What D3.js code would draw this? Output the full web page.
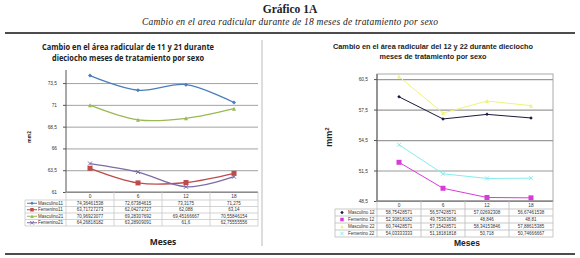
<!DOCTYPE html>
<html><head><meta charset="utf-8">
<script src="https://cdn.jsdelivr.net/npm/d3@7"></script>
<style>body{margin:0;background:#fff}svg{display:block}</style>
</head><body>
<script>
// ---------- DATA ----------
const months = ["0", "6", "12", "18"];

const leftNames = ["Masculino11", "Femenino11", "Masculino21", "Femenino21"];
const masculino11 = [74.36461538, 72.67384615, 73.3175, 71.275];
const femenino11  = [63.71727273, 62.04272727, 62.088, 63.14];
const masculino21 = [70.96923077, 69.28307692, 69.45166667, 70.55846154];
const femenino21  = [64.26818182, 63.28909091, 61.6, 62.75555556];
const leftTicks = [61, 63.5, 66, 68.5, 71, 73.5];

const rightNames = ["Masculino 12", "Femenino 12", "Masculino 22", "Femenino 22"];
const masculino12 = [58.75428571, 56.57428571, 57.02692308, 56.67461538];
const femenino12  = [52.30818182, 49.75363636, 48.846, 48.81];
const masculino22 = [60.74428571, 57.15428571, 58.34153846, 57.88615385];
const femenino22  = [54.03333333, 51.18181818, 50.718, 50.74666667];
const rightTicks = [48.5, 51.5, 54.5, 57.5, 60.5];

const mainTitle = "Gráfico 1A";
const subTitle = "Cambio en el area radicular durante de 18 meses de tratamiento por sexo";
const leftTitle = ["Cambio en el área radicular de 11 y 21 durante", "dieciocho meses de tratamiento por sexo"];
const rightTitle = ["Cambio en el área radicular del 12 y 22 durante dieciocho", "meses de tratamiento por sexo"];

// ---------- DRAW ----------
const fmt = v => String(v).replace(".", ",");
const svg = d3.select("body").append("svg").attr("width", 580).attr("height", 258);

svg.append("text").attr("x", 290).attr("y", 13).attr("text-anchor", "middle")
  .attr("font-family", "Liberation Serif").attr("font-weight", "bold").attr("font-size", 11.5)
  .attr("fill", "#222").text(mainTitle);
svg.append("text").attr("x", 290).attr("y", 25).attr("text-anchor", "middle")
  .attr("font-family", "Liberation Serif").attr("font-style", "italic").attr("font-size", 9.5)
  .attr("fill", "#222").attr("textLength", 296).text(subTitle);
svg.append("line").attr("x1", 5).attr("x2", 575).attr("y1", 33).attr("y2", 33)
  .attr("stroke", "#111").attr("stroke-width", 1.5);
svg.append("line").attr("x1", 5).attr("x2", 575).attr("y1", 254).attr("y2", 254)
  .attr("stroke", "#111").attr("stroke-width", 1.5);
svg.append("line").attr("x1", 262).attr("x2", 262).attr("y1", 40).attr("y2", 246)
  .attr("stroke", "#bbb").attr("stroke-width", 1);

function marker(g, type, cx, cy, color, s) {
  if (type === "square") {
    g.append("rect").attr("x", cx - s / 2).attr("y", cy - s / 2).attr("width", s).attr("height", s).attr("fill", color);
  } else if (type === "diamond") {
    g.append("path").attr("d", `M${cx},${cy - s / 2}L${cx + s / 2},${cy}L${cx},${cy + s / 2}L${cx - s / 2},${cy}Z`).attr("fill", color);
  } else if (type === "triangle") {
    g.append("path").attr("d", `M${cx},${cy - s / 2}L${cx + s / 2},${cy + s / 2}L${cx - s / 2},${cy + s / 2}Z`).attr("fill", color);
  } else if (type === "x") {
    g.append("path").attr("d", `M${cx - s / 2},${cy - s / 2}L${cx + s / 2},${cy + s / 2}M${cx - s / 2},${cy + s / 2}L${cx + s / 2},${cy - s / 2}`)
      .attr("stroke", color).attr("stroke-width", 1);
  }
}

function chart(opt) {
  const g = svg.append("g");
  const x = d3.scaleBand().domain(months).range([opt.x0, opt.x1]);
  const cx = m => x(m) + x.bandwidth() / 2;
  const y = d3.scaleLinear().domain(opt.domain).range([opt.y0, opt.top]);

  opt.title.forEach((t, i) => {
    g.append("text").attr("x", opt.titleX).attr("y", opt.titleY + i * opt.titleGap)
      .attr("text-anchor", "middle").attr("font-family", opt.titleFont).attr("font-weight", "bold")
      .attr("font-size", opt.titleSize).attr("fill", "#222")
      .attr("textLength", opt.titleLen[i]).attr("lengthAdjust", "spacingAndGlyphs").text(t);
  });

  if (opt.frame) {
    g.append("rect").attr("x", opt.x0).attr("y", opt.top).attr("width", opt.x1 - opt.x0)
      .attr("height", opt.y0 - opt.top).attr("fill", "none").attr("stroke", "#aaa").attr("stroke-width", 1);
  }
  const grid = g.append("g").attr("transform", `translate(${opt.x0},0)`)
    .call(d3.axisLeft(y).tickValues(opt.ticks).tickSize(-(opt.x1 - opt.x0)).tickFormat(""));
  grid.select(".domain").remove();
  grid.selectAll("line").attr("stroke", opt.gridColor).attr("stroke-width", opt.gridWidth);

  const ax = g.append("g").attr("transform", `translate(${opt.x0},0)`)
    .call(d3.axisLeft(y).tickValues(opt.ticks).tickSize(3).tickFormat(fmt));
  ax.select(".domain").attr("d", `M0,${opt.top}V${opt.y0}`).attr("stroke", "#555");
  ax.selectAll("line").attr("stroke", "#555");
  ax.selectAll("text").attr("font-family", opt.tickFont).attr("font-size", 4.8).attr("fill", "#333").attr("dx", -3);

  g.append("text").attr("transform", `translate(${opt.yTitleX},${opt.yTitleY}) rotate(-90)`)
    .attr("text-anchor", "middle").attr("font-family", opt.titleFont).attr("font-weight", "bold")
    .attr("font-size", opt.yTitleSize).attr("fill", "#222").html(opt.yTitle);

  const line = d3.line().x((d, i) => cx(months[i])).y(d => y(d)).curve(opt.curve);
  opt.series.forEach(s => {
    g.append("path").attr("d", line(s.values)).attr("fill", "none").attr("stroke", s.color).attr("stroke-width", opt.lineWidth);
    s.values.forEach((v, i) => marker(g, s.marker, cx(months[i]), y(v), s.markerColor || s.color, s.size));
  });

  const tb = g.append("g");
  const rowTop = opt.y0 + opt.headH;
  const rows = opt.series.length;
  const tBottom = rowTop + rows * opt.rowH;
  const tc = opt.tableColor;
  tb.append("line").attr("x1", opt.x0).attr("x2", opt.x1).attr("y1", opt.y0).attr("y2", opt.y0).attr("stroke", "#777");
  for (let r = 0; r <= rows; r++) {
    tb.append("line").attr("x1", opt.tx).attr("x2", opt.x1).attr("y1", rowTop + r * opt.rowH).attr("y2", rowTop + r * opt.rowH)
      .attr("stroke", tc).attr("stroke-width", 0.8);
  }
  months.forEach(m => {
    tb.append("line").attr("x1", x(m)).attr("x2", x(m)).attr("y1", opt.y0).attr("y2", tBottom).attr("stroke", tc).attr("stroke-width", 0.8);
  });
  tb.append("line").attr("x1", opt.x1).attr("x2", opt.x1).attr("y1", opt.y0).attr("y2", tBottom).attr("stroke", tc).attr("stroke-width", 0.8);
  tb.append("line").attr("x1", opt.tx).attr("x2", opt.tx).attr("y1", rowTop).attr("y2", tBottom).attr("stroke", tc).attr("stroke-width", 0.8);
  months.forEach(m => {
    tb.append("text").attr("x", cx(m)).attr("y", opt.y0 + opt.headH / 2 + 1.7).attr("text-anchor", "middle")
      .attr("font-family", opt.tickFont).attr("font-size", 4.8).attr("fill", "#333").text(m);
  });
  opt.series.forEach((s, r) => {
    const yy = rowTop + r * opt.rowH + opt.rowH / 2;
    if (opt.legendLine) {
      tb.append("line").attr("x1", opt.tx + 2).attr("x2", opt.tx + 12).attr("y1", yy).attr("y2", yy).attr("stroke", s.color).attr("stroke-width", 1);
    }
    marker(tb, s.marker, opt.tx + 7, yy, s.markerColor || s.color, Math.min(s.size, 3.5));
    tb.append("text").attr("x", opt.tx + 13).attr("y", yy + 1.6).attr("font-family", opt.tickFont)
      .attr("font-size", 4.5).attr("fill", "#333").text(s.name);
    s.values.forEach((v, i) => {
      tb.append("text").attr("x", cx(months[i])).attr("y", yy + 1.6).attr("text-anchor", "middle")
        .attr("font-family", opt.tickFont).attr("font-size", 4.5).attr("fill", "#333").text(fmt(v));
    });
  });

  g.append("text").attr("x", opt.mesesX).attr("y", opt.mesesY).attr("text-anchor", "middle")
    .attr("font-family", opt.titleFont).attr("font-weight", "bold").attr("font-size", 8.5).attr("fill", "#222").text("Meses");
}

chart({
  x0: 66, x1: 258, y0: 192, top: 70, domain: [61, 75], ticks: leftTicks,
  title: leftTitle, titleX: 128, titleY: 50, titleGap: 11, titleFont: "Open Sans", titleSize: 8,
  titleLen: [172, 152],
  gridColor: "#8a8a8a", gridWidth: 0.8, tickFont: "Liberation Sans", frame: false,
  yTitle: "mm2", yTitleX: 31, yTitleY: 137, yTitleSize: 4.5,
  curve: d3.curveCardinal.tension(0), lineWidth: 1.3,
  series: [
    {name: leftNames[0], values: masculino11, color: "#4a7ebb", marker: "diamond", size: 4},
    {name: leftNames[1], values: femenino11, color: "#be4b48", marker: "square", size: 5},
    {name: leftNames[2], values: masculino21, color: "#98b954", marker: "triangle", size: 4},
    {name: leftNames[3], values: femenino21, color: "#7d6ca6", marker: "x", size: 4}
  ],
  tx: 25, headH: 8, rowH: 6.5, tableColor: "#c8c8c8", legendLine: true,
  mesesX: 163, mesesY: 245
});

chart({
  x0: 377, x1: 553, y0: 201, top: 74, domain: [48.5, 61], ticks: rightTicks,
  title: rightTitle, titleX: 433, titleY: 49, titleGap: 9.5, titleFont: "Liberation Sans", titleSize: 7.5,
  titleLen: [200, 107],
  gridColor: "#9a9a9a", gridWidth: 1.2, tickFont: "Liberation Sans", frame: true,
  yTitle: "mm<tspan dy='-3' font-size='6'>2</tspan>", yTitleX: 332, yTitleY: 137, yTitleSize: 9,
  curve: d3.curveLinear, lineWidth: 1,
  series: [
    {name: rightNames[0], values: masculino12, color: "#1a1a3a", marker: "diamond", size: 3.5},
    {name: rightNames[1], values: femenino12, color: "#d83cd8", marker: "square", size: 5},
    {name: rightNames[2], values: masculino22, color: "#f2f27a", marker: "triangle", size: 4},
    {name: rightNames[3], values: femenino22, color: "#86ecec", marker: "x", size: 4}
  ],
  tx: 335, headH: 8, rowH: 7, tableColor: "#bbb", legendLine: false,
  mesesX: 467, mesesY: 246
});
</script>
</body></html>
